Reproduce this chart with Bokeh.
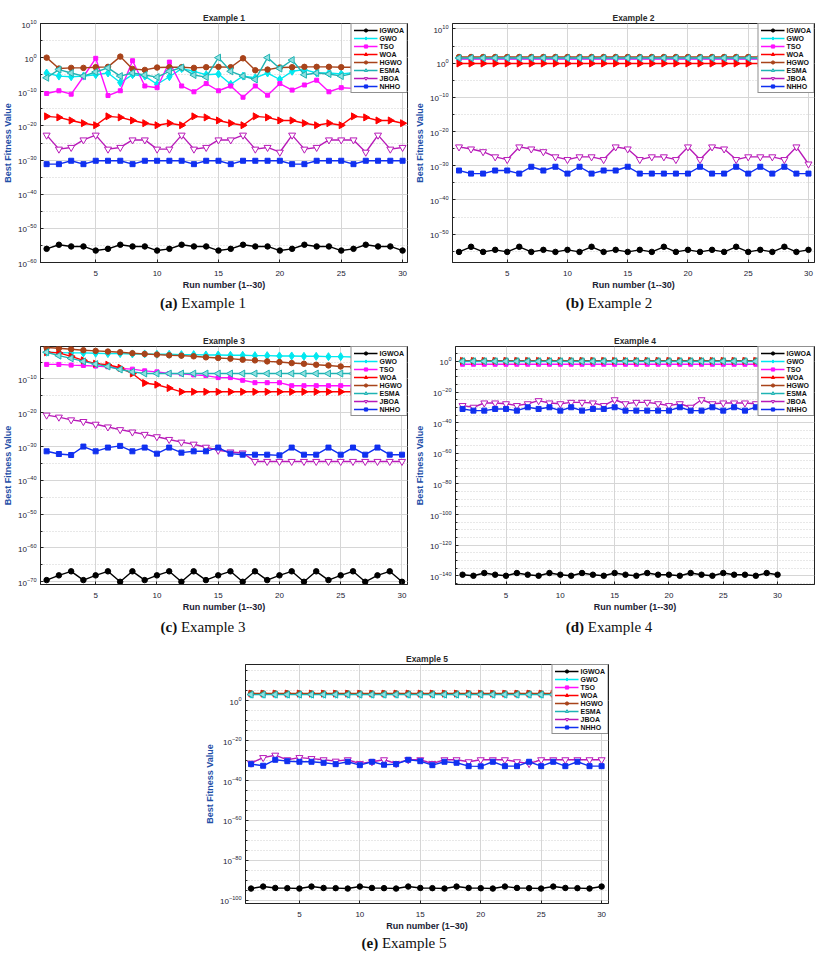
import numpy as np
from bokeh.plotting import figure
from bokeh.models import Range1d, FixedTicker, Legend, LegendItem, Div, Spacer
from bokeh.layouts import column, row
from bokeh.embed import file_html
from bokeh.resources import INLINE

# ---------------- data (log10 of best fitness value) ----------------
runs = list(range(1, 31))
algorithms = ["IGWOA", "GWO", "TSO", "WOA", "HGWO", "ESMA", "JBOA", "NHHO"]
titles = ["Example 1", "Example 2", "Example 3", "Example 4", "Example 5"]
captions = [("(a)", "Example 1"), ("(b)", "Example 2"), ("(c)", "Example 3"),
            ("(d)", "Example 4"), ("(e)", "Example 5")]
y_label = "Best Fitness Value"
x_labels = ["Run number (1--30)", "Run number (1--30)", "Run number (1--30)",
            "Run number (1--30)", "Run number (1\u201330)"]
x_ticks = [5, 10, 15, 20, 25, 30]

# Example 1
e1_igwoa = [-56.0,-54.8,-55.3,-55.3,-56.5,-56.0,-54.8,-55.3,-55.3,-56.5,-56.0,-54.8,-55.3,-55.3,-56.5,
            -56.0,-54.8,-55.3,-55.3,-56.5,-56.0,-54.8,-55.3,-55.3,-56.5,-56.0,-54.8,-55.3,-55.3,-56.5]
e1_gwo = [-4.5,-5.4,-5.6,-5.4,-5.0,-4.5,-7.3,-5.0,-5.4,-7.8,-5.6,-3.2,-4.0,-5.0,-4.8,
          -7.8,-5.4,-5.9,-4.5,-6.4,-4.0,-3.5,-4.5,-4.5,-4.8,-4.4,-5.0,-4.6,-5.2,-4.7]
e1_tso = [-10.5,-9.7,-10.7,-5.6,-0.2,-11.1,-9.7,-0.9,-8.3,-8.8,-1.3,-8.3,-10.0,-7.6,-9.7,
          -8.3,-11.6,-8.3,-11.0,-7.6,-9.5,-8.0,-6.6,-10.0,-8.8,-9.0,-9.2,-8.5,-9.4,-8.7]
e1_woa = [-17.2,-17.5,-18.4,-19.2,-19.8,-17.2,-17.5,-18.4,-19.2,-19.8,-19.2,-19.8,-17.2,-17.5,-18.4,
          -19.2,-19.8,-17.2,-17.5,-18.4,-18.4,-19.2,-19.8,-19.2,-19.8,-17.2,-17.5,-18.4,-18.4,-19.2]
e1_hgwo = [0.0,-3.2,-3.0,-3.0,-2.8,-2.7,0.3,-3.3,-3.6,-2.9,-2.8,-2.8,-3.0,-2.8,-2.7,
           -2.8,-0.2,-3.7,-3.5,-2.9,-2.8,-2.7,-2.7,-2.7,-2.8,-2.8,-2.7,-2.7,-2.6,-2.7]
e1_esma = [-5.9,-3.5,-4.5,-5.4,-4.2,-3.0,-5.4,-4.5,-5.1,-5.7,-4.0,-2.9,-5.1,-5.7,0.0,
           -4.0,-5.4,-6.4,0.0,-3.2,-0.7,-5.0,-4.5,-4.8,-5.4,-4.6,-5.0,-4.9,-5.2,-4.5]
e1_jboa = [-22.7,-26.8,-26.3,-24.1,-22.7,-26.8,-26.3,-24.1,-24.1,-26.8,-26.8,-22.7,-26.8,-26.3,-24.1,
           -24.1,-22.7,-26.8,-26.3,-27.7,-22.7,-26.8,-26.3,-24.1,-24.1,-24.1,-27.7,-22.7,-26.8,-26.3]
e1_nhho = [-31.2,-31.2,-30.2,-31.2,-30.2,-30.2,-30.2,-31.2,-30.2,-30.2,-30.2,-30.2,-31.2,-30.2,-30.2,
           -31.2,-30.2,-30.2,-30.2,-30.2,-31.2,-31.2,-30.2,-30.2,-30.2,-31.2,-30.2,-30.2,-30.2,-30.2]

# Example 2
e2_igwoa = [-55.2,-53.7,-55.2,-54.6,-55.2,-53.7,-55.2,-54.6,-55.2,-54.6,-55.2,-53.7,-55.2,-54.6,-55.2,
            -54.6,-55.2,-53.7,-55.2,-54.6,-55.2,-54.6,-55.2,-53.7,-55.2,-54.6,-55.2,-53.7,-55.2,-54.6]
e2_gwo = [1.3,1.3,1.3,1.3,1.3,1.3,1.3,1.3,1.3,1.3,1.3,1.3,1.3,1.3,1.3,
          1.3,1.3,1.3,1.3,1.3,1.3,1.3,1.3,1.3,1.3,1.3,1.3,1.3,1.3,1.3]
e2_tso = [1.2,1.2,1.2,1.2,1.2,1.2,1.2,1.2,1.2,1.2,1.2,1.2,1.2,1.2,1.2,
          1.2,1.2,1.2,1.2,1.2,1.2,1.2,1.2,1.2,1.2,1.2,1.2,1.2,1.2,1.2]
e2_woa = [-0.1,-0.1,-0.1,-0.1,-0.1,-0.1,-0.1,-0.1,-0.1,-0.1,-0.1,-0.1,-0.1,-0.1,-0.1,
          -0.1,-0.1,-0.1,-0.1,-0.1,-0.1,-0.1,-0.1,-0.1,-0.1,-0.1,-0.1,-0.1,-0.1,-0.1]
e2_hgwo = [1.8,1.8,1.8,1.8,1.8,1.8,1.8,1.8,1.8,1.8,1.8,1.8,1.8,1.8,1.8,
           1.8,1.8,1.8,1.8,1.8,1.8,1.8,1.8,1.8,1.8,1.8,1.8,1.8,1.8,1.8]
e2_esma = [1.5,1.5,1.5,1.5,1.5,1.5,1.5,1.5,1.5,1.5,1.5,1.5,1.5,1.5,1.5,
           1.5,1.5,1.5,1.5,1.5,1.5,1.5,1.5,1.5,1.5,1.5,1.5,1.5,1.5,1.5]
e2_jboa = [-24.5,-25.1,-25.9,-27.4,-28.2,-24.5,-25.1,-25.9,-27.4,-28.2,-27.4,-27.4,-28.2,-24.5,-25.1,
           -28.2,-27.4,-27.4,-28.2,-24.5,-28.2,-24.5,-25.1,-28.2,-27.4,-27.4,-27.4,-28.2,-24.5,-29.5]
e2_nhho = [-31.4,-32.3,-32.3,-31.4,-31.4,-32.3,-30.3,-31.4,-30.3,-32.3,-30.3,-32.3,-31.4,-31.4,-30.3,
           -32.3,-32.3,-32.3,-32.3,-32.3,-30.3,-32.3,-32.3,-30.3,-32.3,-30.3,-32.3,-30.3,-32.3,-32.3]

# Example 3
e3_igwoa = [-69.5,-68.1,-66.9,-69.5,-68.1,-66.9,-70.0,-66.9,-69.5,-68.1,-66.9,-70.0,-66.9,-69.5,-68.1,
            -66.9,-70.0,-66.9,-69.5,-68.1,-66.9,-70.0,-66.9,-69.5,-68.1,-66.9,-70.0,-68.1,-66.9,-70.0]
e3_gwo = [-2.1,-2.2,-2.3,-2.3,-2.4,-2.5,-2.5,-2.6,-2.6,-2.7,-2.7,-2.8,-2.8,-2.9,-2.9,
          -3.0,-3.0,-3.1,-3.1,-3.2,-3.2,-3.3,-3.3,-3.4,-3.4,-3.5,-3.5,-3.5,-3.6,-3.6]
e3_tso = [-5.7,-5.7,-5.9,-6.0,-6.2,-6.4,-6.9,-7.1,-7.6,-7.9,-8.4,-8.5,-8.8,-9.0,-9.6,
          -9.6,-10.4,-11.1,-11.1,-11.1,-12.0,-12.0,-12.0,-12.0,-12.0,-12.0,-12.0,-12.0,-12.0,-12.0]
e3_woa = [-2.1,-2.3,-3.3,-4.5,-5.5,-5.8,-6.7,-8.4,-11.2,-11.7,-12.7,-13.8,-13.8,-13.8,-13.8,
          -13.8,-13.8,-13.8,-13.8,-13.8,-13.8,-13.8,-13.8,-13.8,-13.8,-13.8,-13.8,-13.8,-13.8,-13.8]
e3_hgwo = [-0.7,-0.9,-1.2,-1.5,-1.7,-1.9,-2.1,-2.4,-2.6,-2.8,-3.0,-3.1,-3.3,-3.6,-3.8,
           -4.0,-4.3,-4.5,-4.8,-5.0,-5.3,-5.5,-5.8,-6.0,-6.3,-6.4,-6.6,-6.8,-6.9,-7.1]
e3_esma = [-2.1,-3.1,-3.9,-4.8,-5.6,-6.3,-7.2,-7.9,-8.4,-8.4,-8.4,-8.4,-8.4,-8.4,-8.4,
           -8.4,-8.4,-8.4,-8.4,-8.4,-8.4,-8.4,-8.4,-8.4,-8.4,-8.4,-8.4,-8.4,-8.4,-8.4]
e3_jboa = [-20.7,-21.3,-22.1,-22.6,-23.4,-24.2,-25.0,-25.7,-26.4,-27.1,-27.9,-28.7,-29.3,-30.2,-31.1,
           -31.6,-31.9,-34.4,-34.4,-34.4,-34.4,-34.4,-34.4,-34.4,-34.4,-34.4,-34.4,-34.4,-34.4,-34.4]
e3_nhho = [-31.4,-32.2,-32.5,-30.0,-31.4,-30.3,-29.8,-31.4,-30.3,-32.1,-30.3,-31.8,-31.4,-31.4,-30.3,
           -32.1,-32.4,-32.4,-32.4,-32.6,-30.3,-32.4,-32.4,-30.3,-32.4,-30.3,-32.4,-30.3,-32.4,-32.4]

# Example 4
e4_igwoa = [-139.3,-140.0,-138.2,-139.3,-140.0,-138.2,-139.3,-140.0,-138.2,-139.3,-140.0,-138.2,-139.3,-140.0,-138.2,
            -139.3,-140.0,-138.2,-139.3,-139.3,-140.0,-138.2,-139.3,-140.0,-138.2,-139.3,-139.3,-140.0,-138.2,-139.3]
e4_gwo = [0.0,0.0,0.0,0.0,0.0,0.0,0.0,0.0,0.0,0.0,0.0,0.0,0.0,0.0,0.0,
          0.0,0.0,0.0,0.0,0.0,0.0,0.0,0.0,0.0,0.0,0.0,0.0,0.0,0.0,0.0]
e4_tso = [-1.8,-1.8,-1.8,-1.8,-1.8,-1.8,-1.8,-1.8,-1.8,-1.8,-1.8,-1.8,-1.8,-1.8,-1.8,
          -1.8,-1.8,-1.8,-1.8,-1.8,-1.8,-1.8,-1.8,-1.8,-1.8,-1.8,-1.8,-1.8,-1.8,-1.8]
e4_woa = [0.4,0.4,0.4,0.4,0.4,0.4,0.4,0.4,0.4,0.4,0.4,0.4,0.4,0.4,0.4,
          0.4,0.4,0.4,0.4,0.4,0.4,0.4,0.4,0.4,0.4,0.4,0.4,0.4,0.4,0.4]
e4_hgwo = [0.5,0.5,0.5,0.5,0.5,0.5,0.5,0.5,0.5,0.5,0.5,0.5,0.5,0.5,0.5,
           0.5,0.5,0.5,0.5,0.5,0.5,0.5,0.5,0.5,0.5,0.5,0.5,0.5,0.5,0.5]
e4_esma = [0.1,0.1,0.1,0.1,0.1,0.1,0.1,0.1,0.1,0.1,0.1,0.1,0.1,0.1,0.1,
           0.1,0.1,0.1,0.1,0.1,0.1,0.1,0.1,0.1,0.1,0.1,0.1,0.1,0.1,0.1]
e4_jboa = [-28.8,-29.9,-27.1,-27.1,-27.6,-28.8,-27.6,-25.6,-27.1,-27.6,-26.7,-26.7,-27.1,-28.8,-25.0,
           -27.6,-26.7,-26.7,-27.6,-28.8,-27.6,-29.9,-25.0,-27.6,-27.1,-27.1,-27.1,-27.6,-27.6,-27.6]
e4_nhho = [-31.0,-32.1,-32.1,-31.0,-31.0,-32.1,-29.9,-31.0,-29.9,-32.1,-29.9,-32.1,-31.0,-31.0,-29.9,
           -32.1,-32.1,-32.1,-32.1,-32.1,-29.9,-32.1,-32.1,-29.9,-32.1,-29.9,-32.1,-29.9,-31.0,-31.0]

# Example 5
e5_igwoa = [-94.2,-93.2,-93.9,-94.0,-94.2,-93.2,-93.9,-94.0,-94.2,-93.2,-93.9,-94.0,-94.2,-93.2,-93.9,
            -94.0,-94.2,-93.2,-93.9,-94.0,-94.2,-93.2,-93.9,-94.0,-94.2,-93.2,-93.9,-94.0,-94.2,-93.2]
e5_gwo = [3.3,3.3,3.3,3.3,3.3,3.3,3.3,3.3,3.3,3.3,3.3,3.3,3.3,3.3,3.3,
          3.3,3.3,3.3,3.3,3.3,3.3,3.3,3.3,3.3,3.3,3.3,3.3,3.3,3.3,3.3]
e5_tso = [3.3,3.3,3.3,3.3,3.3,3.3,3.3,3.3,3.3,3.3,3.3,3.3,3.3,3.3,3.3,
          3.3,3.3,3.3,3.3,3.3,3.3,3.3,3.3,3.3,3.3,3.3,3.3,3.3,3.3,3.3]
e5_woa = [3.6,3.6,3.6,3.6,3.6,3.6,3.6,3.6,3.6,3.6,3.6,3.6,3.6,3.6,3.6,
          3.6,3.6,3.6,3.6,3.6,3.6,3.6,3.6,3.6,3.6,3.6,3.6,3.6,3.6,3.6]
e5_hgwo = [3.7,3.7,3.7,3.7,3.7,3.7,3.7,3.7,3.7,3.7,3.7,3.7,3.7,3.7,3.7,
           3.7,3.7,3.7,3.7,3.7,3.7,3.7,3.7,3.7,3.7,3.7,3.7,3.7,3.7,3.7]
e5_esma = [3.1,3.1,3.1,3.1,3.1,3.1,3.1,3.1,3.1,3.1,3.1,3.1,3.1,3.1,3.1,
           3.1,3.1,3.1,3.1,3.1,3.1,3.1,3.1,3.1,3.1,3.1,3.1,3.1,3.1,3.1]
e5_jboa = [-31.3,-28.5,-27.3,-29.6,-28.5,-29.0,-29.6,-30.3,-29.6,-31.5,-30.6,-29.6,-31.5,-29.6,-29.6,
           -31.5,-29.6,-29.6,-30.6,-29.6,-29.6,-29.6,-30.6,-31.5,-29.6,-29.6,-29.6,-29.6,-29.6,-29.6]
e5_nhho = [-31.8,-32.6,-29.6,-30.3,-30.6,-30.6,-31.1,-31.8,-30.6,-32.3,-30.6,-32.1,-31.8,-29.6,-30.3,
           -32.3,-30.6,-31.1,-32.8,-32.9,-30.6,-32.8,-32.8,-30.6,-32.8,-30.6,-32.8,-30.6,-32.8,-32.8]

examples = [
    [e1_igwoa, e1_gwo, e1_tso, e1_woa, e1_hgwo, e1_esma, e1_jboa, e1_nhho],
    [e2_igwoa, e2_gwo, e2_tso, e2_woa, e2_hgwo, e2_esma, e2_jboa, e2_nhho],
    [e3_igwoa, e3_gwo, e3_tso, e3_woa, e3_hgwo, e3_esma, e3_jboa, e3_nhho],
    [e4_igwoa, e4_gwo, e4_tso, e4_woa, e4_hgwo, e4_esma, e4_jboa, e4_nhho],
    [e5_igwoa, e5_gwo, e5_tso, e5_woa, e5_hgwo, e5_esma, e5_jboa, e5_nhho],
]
# axis limits (log10) and tick exponents
y_limits = [(-60.0, 10.0), (-58.3, 11.6), (-70.8, -0.4), (-145.7, 9.8), (-101.7, 18.2)]
x_limits = [(0.5, 30.4), (0.46, 30.5), (0.5, 30.45), (0.35, 33.4), (0.54, 30.57)]
y_major = [[10, 0, -10, -20, -30, -40, -50, -60],
           [10, 0, -10, -20, -30, -40, -50],
           [-10, -20, -30, -40, -50, -60, -70],
           [0, -20, -40, -60, -80, -100, -120, -140],
           [0, -20, -40, -60, -80, -100]]

# ---------------- style ----------------
STYLE = {
    "IGWOA": dict(color="#000000", marker="circle", size=5.5, fill="#000000", angle=0.0),
    "GWO":   dict(color="#00e8f0", marker="diamond", size=8, fill="#00e8f0", angle=0.0),
    "TSO":   dict(color="#ff10ff", marker="square", size=4, fill="#ff10ff", angle=0.0),
    "WOA":   dict(color="#ff0000", marker="triangle", size=7, fill="#ff0000", angle=-np.pi / 2),
    "HGWO":  dict(color="#a8431a", marker="circle", size=5.5, fill="#a8431a", angle=0.0),
    "ESMA":  dict(color="#1fb3b3", marker="triangle", size=7, fill="#8fe0e0", angle=np.pi / 2),
    "JBOA":  dict(color="#b81ab8", marker="inverted_triangle", size=7, fill="#ffffff", angle=0.0),
    "NHHO":  dict(color="#1030f0", marker="square", size=5, fill="#1030f0", angle=0.0),
}
LABEL_BLUE = "#1f4fa8"
TEXT_DARK = "#1b2233"
FONT = "Liberation Sans"


def make_panel(i, width, height, bl, br, bt, bb):
    ylo, yhi = y_limits[i]
    xlo, xhi = x_limits[i]
    p = figure(width=width, height=height, y_axis_type="log",
               x_range=Range1d(xlo, xhi), y_range=Range1d(10.0 ** ylo, 10.0 ** yhi),
               output_backend="svg", toolbar_location=None,
               min_border_left=bl, min_border_right=br, min_border_top=bt, min_border_bottom=bb)
    p.title.text = titles[i]
    p.title.align = "center"
    p.title.text_font = FONT
    p.title.text_font_size = "8.5px"
    p.title.text_font_style = "bold"
    p.title.text_color = "#2a2a2a"
    p.title.standoff = 2

    majors = [10.0 ** e for e in y_major[i]]
    step = 5
    lo_m = int(np.floor(ylo / step)) * step
    minors = [10.0 ** e for e in range(lo_m, int(np.ceil(yhi)) + 1, step) if ylo <= e <= yhi]
    yt = FixedTicker(ticks=majors, minor_ticks=minors)
    xt = FixedTicker(ticks=x_ticks, minor_ticks=[])
    p.yaxis.ticker = yt
    p.xaxis.ticker = xt
    p.ygrid.ticker = yt
    p.xgrid.ticker = xt

    for ax in (p.xaxis[0], p.yaxis[0]):
        ax.major_tick_in = 3
        ax.major_tick_out = 0
        ax.minor_tick_in = 2
        ax.minor_tick_out = 0
        ax.axis_line_color = "#222222"
        ax.major_tick_line_color = "#222222"
        ax.minor_tick_line_color = "#222222"
        ax.major_label_text_font = FONT
        ax.major_label_text_font_size = "8px"
        ax.major_label_text_color = TEXT_DARK
        ax.axis_label_text_font = FONT
        ax.axis_label_text_font_size = "9px"
        ax.axis_label_text_font_style = "bold"
    p.xaxis.axis_label = x_labels[i]
    p.xaxis.axis_label_text_color = TEXT_DARK
    p.xaxis.major_label_standoff = 8
    p.xaxis.axis_label_standoff = 1
    p.yaxis.axis_label = y_label
    p.yaxis.axis_label_text_color = LABEL_BLUE
    p.yaxis.major_label_standoff = 4
    p.yaxis.axis_label_standoff = 2

    p.xgrid.grid_line_color = "#d6d6d6"
    p.ygrid.grid_line_color = "#d6d6d6"
    p.ygrid.minor_grid_line_color = "#d0d0d0"
    p.ygrid.minor_grid_line_dash = "1 2"
    p.outline_line_color = "#222222"
    p.outline_line_width = 1
    p.background_fill_color = "#ffffff"
    p.border_fill_color = "#ffffff"

    items = []
    for name, exps in zip(algorithms, examples[i]):
        st = STYLE[name]
        vals = [10.0 ** e for e in exps]
        lr = p.line(runs, vals, line_color=st["color"], line_width=1.4)
        sr = p.scatter(runs, vals, marker=st["marker"], size=st["size"], angle=st["angle"],
                       line_color=st["color"], fill_color=st["fill"], line_width=1)
        items.append(LegendItem(label=name, renderers=[lr, sr]))
    leg = Legend(items=items, location="top_right", margin=0, padding=2, spacing=0,
                 label_height=8, glyph_height=8, glyph_width=24, label_standoff=2,
                 label_text_font=FONT, label_text_font_size="7px",
                 label_text_font_style="bold", label_text_color="#111111",
                 border_line_color="#222222", border_line_width=1,
                 background_fill_color="#ffffff", background_fill_alpha=1.0)
    p.add_layout(leg)
    return p


def caption(i, width, height, pad):
    b, t = captions[i]
    html = ('<div style="width:%dpx;text-align:center;font-family:\'Liberation Serif\',serif;'
            'font-size:15px;color:#111;padding-top:%dpx;line-height:17px;">'
            '<b>%s</b> %s</div>' % (width, pad, b, t))
    return Div(text=html, width=width, height=height, margin=0)


p1 = make_panel(0, 412, 292, 38, 5, 23, 26)
p2 = make_panel(1, 412, 292, 31, 10, 23, 25)
p3 = make_panel(2, 412, 293, 38, 5, 23, 26)
p4 = make_panel(3, 412, 293, 33, 10, 25, 26)
p5 = make_panel(4, 411, 292, 38, 5, 23, 26)

layout = column(
    row(p1, p2, spacing=0),
    row(caption(0, 406, 29, 3), caption(1, 406, 29, 3), spacing=0),
    row(p3, p4, spacing=0),
    row(caption(2, 406, 27, 5), caption(3, 406, 27, 5), spacing=0),
    row(Spacer(width=202, height=292), p5, spacing=0),
    row(caption(4, 808, 22, 2), spacing=0),
    spacing=0,
)

open("out.html", "w").write(file_html(layout, INLINE))
